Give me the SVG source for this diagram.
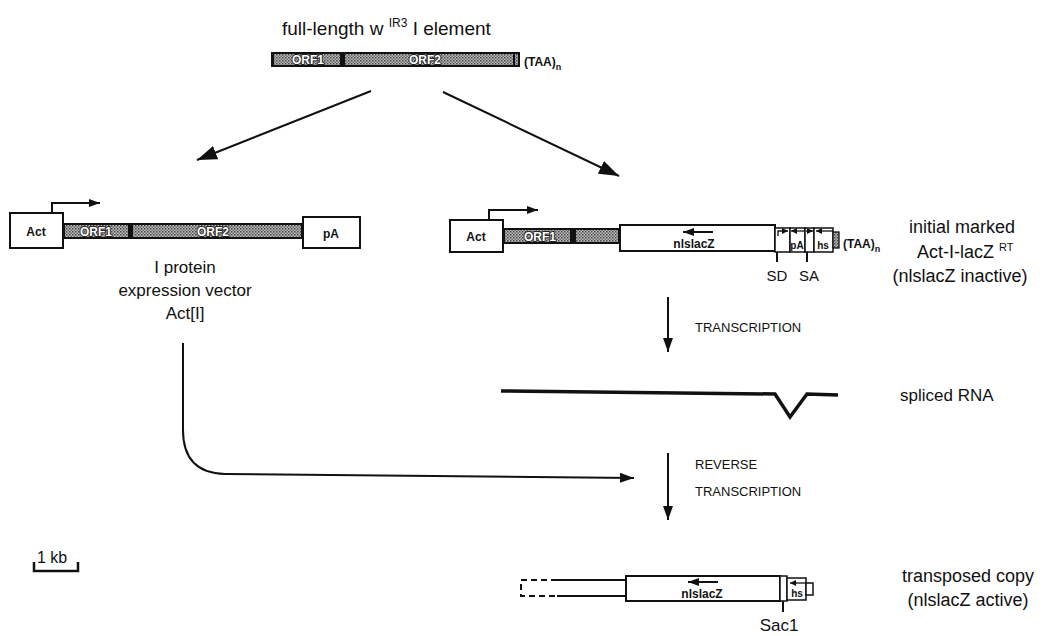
<svg xmlns="http://www.w3.org/2000/svg" width="1060" height="636" viewBox="0 0 1060 636">
<style>
text{font-family:"Liberation Sans",Arial,sans-serif;fill:#111}
.lbl{font-size:17px}
.lblc{font-size:17px;text-anchor:middle}
.sm{font-size:13px}
.box{fill:#fff;stroke:#111;stroke-width:2}
.thin{fill:#fff;stroke:#111;stroke-width:1.5}
.bk{fill:#111}
.dot{fill:url(#dots)}
.orf{font-size:12px;font-weight:bold;text-anchor:middle;fill:#fff;stroke:#222;stroke-width:1.8;paint-order:stroke;stroke-linejoin:round}
.in{font-size:12px;font-weight:bold;text-anchor:middle}
.tiny{font-size:10px;font-weight:bold;text-anchor:middle}
.ln{fill:none;stroke:#111;stroke-width:2}
</style>
<defs>
<pattern id="dots" width="3" height="3" patternUnits="userSpaceOnUse"><rect width="3" height="3" fill="#bdbdbd"/><rect width="1.5" height="1.5" fill="#444"/><rect x="1.5" y="1.5" width="1.5" height="1.5" fill="#6a6a6a"/></pattern>
<marker id="big" markerUnits="userSpaceOnUse" markerWidth="22" markerHeight="16" refX="20" refY="8" orient="auto"><path d="M0,1 L20,8 L0,15 Z" fill="#111"/></marker>
<marker id="mid" markerUnits="userSpaceOnUse" markerWidth="16" markerHeight="12" refX="14" refY="6" orient="auto"><path d="M0,1 L14,6 L0,11 Z" fill="#111"/></marker>
<marker id="sml" markerUnits="userSpaceOnUse" markerWidth="12" markerHeight="10" refX="11" refY="5" orient="auto"><path d="M0,1 L11,5 L0,9 Z" fill="#111"/></marker>
<marker id="tin" markerUnits="userSpaceOnUse" markerWidth="7" markerHeight="7" refX="6" refY="3.5" orient="auto"><path d="M0,0.5 L6,3.5 L0,6.5 Z" fill="#111"/></marker>
</defs>

<g id="full-length">
<text x="282" y="35" style="font-size:19px">full-length w <tspan dy="-8" style="font-size:12px">IR3</tspan><tspan dy="8"> I element</tspan></text>
<rect class="bk" x="271" y="52" width="249" height="15"/>
<rect class="dot" x="274" y="54" width="66" height="11"/>
<rect class="dot" x="345" y="54" width="168" height="11"/>
<rect class="dot" x="515" y="54" width="3" height="11"/>
<text class="orf" x="308" y="64">ORF1</text>
<text class="orf" x="425" y="64">ORF2</text>
<text x="524" y="66" style="font-size:12px;font-weight:bold">(TAA)<tspan dy="4" style="font-size:9px">n</tspan></text>
</g>

<g id="expression-vector">
<rect class="box" x="10" y="213" width="53" height="35"/>
<text class="in" x="36" y="236">Act</text>
<rect class="bk" x="63" y="223" width="240" height="16"/>
<rect class="dot" x="65" y="225" width="63" height="12"/>
<rect class="dot" x="133" y="225" width="168" height="12"/>
<text class="orf" x="96" y="236">ORF1</text>
<text class="orf" x="213" y="236">ORF2</text>
<rect class="box" x="303" y="217" width="57" height="31"/>
<text class="in" x="331" y="238">pA</text>
<path class="ln" d="M52 213 V203 H100" marker-end="url(#sml)"/>
<text class="lblc" x="185" y="273">I protein</text>
<text class="lblc" x="185" y="296">expression vector</text>
<text class="lblc" x="185" y="319">Act[I]</text>
</g>

<g id="marked-construct">
<rect class="box" x="450" y="220" width="53" height="32"/>
<text class="in" x="476" y="241">Act</text>
<rect class="bk" x="503" y="228" width="117" height="16"/>
<rect class="dot" x="505" y="230" width="65" height="12"/>
<rect class="dot" x="576" y="230" width="42" height="12"/>
<text class="orf" x="540" y="241">ORF1</text>
<path class="ln" d="M489 220 V210 H538" marker-end="url(#sml)"/>
<rect class="box" x="620" y="225" width="155" height="26"/>
<path class="ln" d="M713 232 H683" marker-end="url(#sml)"/>
<text class="in" x="694" y="248">nlslacZ</text>
<rect class="thin" x="775" y="228" width="15" height="24"/>
<path fill="none" stroke="#111" stroke-width="1.3" d="M778 236 V231 H788" marker-end="url(#tin)"/>
<rect class="thin" x="790" y="228" width="15" height="24"/>
<path fill="none" stroke="#111" stroke-width="1.3" d="M805 231 H791" marker-end="url(#tin)"/>
<text class="tiny" x="797" y="249">pA</text>
<rect class="thin" x="805" y="228" width="9" height="24"/>
<path fill="none" stroke="#111" stroke-width="1.3" d="M806 231 H813" marker-end="url(#tin)"/>
<rect class="thin" x="814" y="228" width="19" height="24"/>
<path fill="none" stroke="#111" stroke-width="1.3" d="M833 231 H816" marker-end="url(#tin)"/>
<text class="tiny" x="823" y="249">hs</text>
<rect x="833" y="232" width="6" height="16" fill="url(#dots)" stroke="#111" stroke-width="1.3"/>
<text x="843" y="248" style="font-size:12px;font-weight:bold">(TAA)<tspan dy="4" style="font-size:9px">n</tspan></text>
<path class="ln" d="M777 252 V262 M807 252 V262" stroke-width="1.5"/>
<text class="lblc" x="777" y="281" style="font-size:15px">SD</text>
<text class="lblc" x="809" y="281" style="font-size:15px">SA</text>
<text class="lblc" x="962" y="233" style="font-size:18px">initial  marked</text>
<text x="917" y="258" style="font-size:18px">Act-I-lacZ <tspan dy="-7" style="font-size:11px">RT</tspan></text>
<text class="lblc" x="960" y="282" style="font-size:18px">(nlslacZ  inactive)</text>
</g>

<g id="spliced-rna">
<path d="M501 391 L775 394 L790 417 L807 394 L838 395" fill="none" stroke="#111" stroke-width="3.5"/>
<text class="lbl" x="900" y="401">spliced RNA</text>
</g>

<g id="transposed-copy">
<path d="M557 580 H521 V596 H557" fill="none" stroke="#111" stroke-width="2" stroke-dasharray="6 4"/>
<path class="ln" d="M557 580 H626 M557 596 H626"/>
<rect class="box" x="626" y="576" width="154" height="25"/>
<rect class="thin" x="780" y="576" width="7" height="25"/>
<rect class="thin" x="787" y="578" width="19" height="22"/>
<path fill="none" stroke="#111" stroke-width="1.3" d="M806 583 H790" marker-end="url(#tin)"/>
<text class="tiny" x="797" y="597">hs</text>
<rect class="thin" x="806" y="583" width="7" height="12"/>
<path class="ln" d="M718 582 H688" marker-end="url(#sml)"/>
<text class="in" x="702" y="598">nlslacZ</text>
<path class="ln" d="M783 601 V612" stroke-width="1.5"/>
<text class="lblc" x="779" y="631" style="font-size:17px">Sac1</text>
<text class="lblc" x="968" y="582" style="font-size:18px">transposed copy</text>
<text class="lblc" x="968" y="606" style="font-size:18px">(nlslacZ active)</text>
</g>

<g id="scale-bar">
<text x="37" y="563" style="font-size:16px">1 kb</text>
<path d="M34 562 V571 H78 V562" fill="none" stroke="#111" stroke-width="2.5"/>
</g>

<g id="connectors">
<path d="M371 91 L197 160" class="ln" stroke-width="3" marker-end="url(#big)"/>
<path d="M443 92 L619 176" class="ln" stroke-width="3" marker-end="url(#big)"/>
<path d="M668 297 V352" class="ln" stroke-width="2.5" marker-end="url(#mid)"/>
<text class="sm" x="695" y="332">TRANSCRIPTION</text>
<path d="M183 343 V430 Q183 473 225 474 L634 478" class="ln" marker-end="url(#mid)"/>
<path d="M668 453 V520" class="ln" stroke-width="2.5" marker-end="url(#mid)"/>
<text class="sm" x="695" y="469">REVERSE</text>
<text class="sm" x="695" y="496">TRANSCRIPTION</text>
</g>
</svg>
